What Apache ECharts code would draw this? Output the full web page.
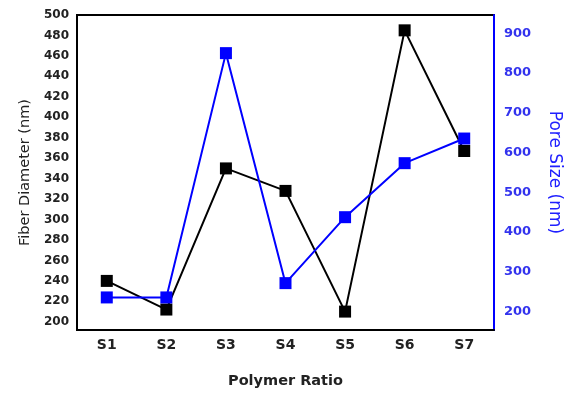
<!DOCTYPE html>
<html>
<head>
<meta charset="utf-8">
<script src="https://cdn.jsdelivr.net/npm/echarts@6/dist/echarts.min.js"></script>
<style>
  html, body { margin: 0; padding: 0; background: #fff; }
  #chart { width: 571px; height: 394px; }
</style>
</head>
<body>
<div id="chart"></div>
<script>
// samples
const samples = ["S1", "S2", "S3", "S4", "S5", "S6", "S7"];
// fiber diameter (nm), left axis
const fiberDiameter = [240, 212, 350, 328, 210, 485, 367];
// pore size (nm), right axis
const poreSize = [235, 235, 850, 271, 437, 573, 635];

const leftLabels = [200, 220, 240, 260, 280, 300, 320, 340, 360, 380, 400, 420, 440, 460, 480, 500];
const leftTicks = [200, 220, 240, 260, 280, 300, 320, 340, 360, 380, 400, 420, 440, 460, 480];
const rightLabels = [200, 300, 400, 500, 600, 700, 800, 900];
const rightTicks = [200, 250, 300, 350, 400, 450, 500, 550, 600, 650, 700, 750, 800, 850, 900];

const chart = echarts.init(document.getElementById("chart"));

chart.setOption({
  animation: false,
  grid: {
    left: 77,
    right: 74,
    top: 15,
    bottom: 62,
    show: true,
    borderColor: "#000",
    borderWidth: 2,
  },
  xAxis: {
    type: "category",
    data: samples,
    boundaryGap: true,
    name: "Polymer Ratio",
    nameLocation: "middle",
    nameGap: 44,
    nameTextStyle: { fontFamily: "DejaVu Sans", fontWeight: "bold", fontSize: 14.5, color: "#222" },
    axisLine: { lineStyle: { color: "#000", width: 2 } },
    axisTick: { inside: true, alignWithLabel: true, length: 5, lineStyle: { color: "#000", width: 2 } },
    axisLabel: { fontFamily: "DejaVu Sans", fontWeight: "bold", fontSize: 14, color: "#222", margin: 8 },
    splitLine: { show: false },
  },
  yAxis: [
    {
      type: "value",
      min: 192,
      max: 500,
      name: "Fiber Diameter (nm)",
      nameLocation: "middle",
      nameGap: 43,
      nameTextStyle: { fontFamily: "DejaVu Sans", fontSize: 14.5, color: "#222" },
      axisLine: { show: true, lineStyle: { color: "#000", width: 2 } },
      axisTick: { inside: true, length: 5, customValues: leftTicks, lineStyle: { color: "#000", width: 2 } },
      axisLabel: { fontFamily: "DejaVu Sans", fontWeight: "bold", fontSize: 12, color: "#222", margin: 8, customValues: leftLabels },
      splitLine: { show: false },
    },
    {
      type: "value",
      position: "right",
      min: 153,
      max: 946,
      name: "Pore Size (nm)",
      nameLocation: "middle",
      nameRotate: -90,
      nameGap: 52,
      nameTextStyle: { fontFamily: "DejaVu Sans", fontSize: 17, color: "#2020ff" },
      axisLine: { show: true, lineStyle: { color: "#0000ff", width: 2 } },
      axisTick: { inside: true, length: 5, customValues: rightTicks, lineStyle: { color: "#000", width: 2 } },
      axisLabel: { fontFamily: "DejaVu Sans", fontWeight: "bold", fontSize: 13, color: "#3333ee", margin: 10, customValues: rightLabels },
      splitLine: { show: false },
    },
  ],
  series: [
    {
      name: "Fiber Diameter",
      type: "line",
      yAxisIndex: 0,
      data: fiberDiameter,
      symbol: "rect",
      symbolSize: 12,
      itemStyle: { color: "#000" },
      lineStyle: { color: "#000", width: 2 },
    },
    {
      name: "Pore Size",
      type: "line",
      yAxisIndex: 1,
      data: poreSize,
      symbol: "rect",
      symbolSize: 12,
      itemStyle: { color: "#0000ff" },
      lineStyle: { color: "#0000ff", width: 2 },
    },
  ],
});
</script>
</body>
</html>
